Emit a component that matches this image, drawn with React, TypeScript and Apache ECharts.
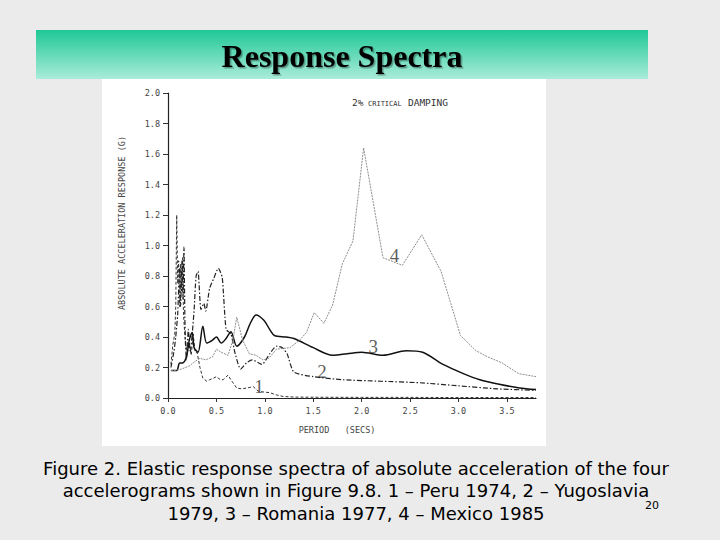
import React, { useEffect, useRef } from "react";
import * as echarts from "echarts";

// Curve 1 – Peru 1974
const period1 = [0.03,0.05,0.07,0.08,0.09,0.10,0.11,0.12,0.13,0.14,0.15,0.16,0.18,0.20,0.22,0.24,0.26,0.28,0.30,0.33,0.36,0.40,0.43,0.47,0.50,0.54,0.57,0.62,0.66,0.71,0.76,0.81,0.85,0.88,0.93,0.98,1.05,1.12,1.19,1.30,1.50,2.00,2.50,3.00,3.50,3.80];
const accel1 = [0.22,0.35,0.42,0.60,1.20,0.75,0.90,0.60,0.88,0.70,0.92,0.55,0.35,0.30,0.35,0.28,0.42,0.30,0.30,0.20,0.13,0.11,0.12,0.13,0.14,0.12,0.12,0.15,0.11,0.065,0.06,0.065,0.07,0.075,0.045,0.04,0.035,0.02,0.01,0.006,0.005,0.004,0.004,0.003,0.003,0.003];

// Curve 2 – Yugoslavia 1979
const period2 = [0.03,0.06,0.08,0.10,0.12,0.13,0.145,0.155,0.165,0.175,0.19,0.21,0.23,0.25,0.27,0.29,0.31,0.34,0.37,0.39,0.43,0.47,0.52,0.56,0.60,0.65,0.69,0.75,0.81,0.87,0.97,1.05,1.12,1.18,1.23,1.30,1.50,1.80,2.20,2.60,3.00,3.40,3.80];
const accel2 = [0.20,0.30,0.40,0.55,0.85,0.60,0.90,0.65,0.99,0.50,0.25,0.45,0.30,0.42,0.58,0.80,0.83,0.58,0.62,0.57,0.72,0.78,0.85,0.79,0.45,0.42,0.30,0.19,0.23,0.25,0.22,0.29,0.34,0.33,0.29,0.17,0.14,0.12,0.11,0.10,0.08,0.06,0.05];

// Curve 3 – Romania 1977
const period3 = [0.03,0.09,0.12,0.15,0.19,0.22,0.25,0.27,0.31,0.36,0.40,0.46,0.50,0.55,0.60,0.65,0.71,0.79,0.85,0.91,0.99,1.05,1.10,1.22,1.30,1.50,1.70,1.85,2.00,2.22,2.46,2.63,2.84,3.05,3.22,3.42,3.63,3.80];
const accel3 = [0.18,0.18,0.23,0.23,0.27,0.38,0.43,0.33,0.30,0.47,0.36,0.38,0.40,0.36,0.39,0.435,0.34,0.40,0.49,0.545,0.51,0.45,0.41,0.40,0.39,0.33,0.28,0.29,0.30,0.28,0.31,0.30,0.22,0.16,0.12,0.09,0.066,0.055];

// Curve 4 – Mexico 1985
const period4 = [0.03,0.08,0.14,0.22,0.28,0.33,0.39,0.46,0.50,0.55,0.62,0.67,0.71,0.77,0.84,0.91,0.98,1.04,1.12,1.26,1.36,1.43,1.51,1.61,1.70,1.80,1.91,2.02,2.12,2.22,2.42,2.62,2.82,3.02,3.18,3.30,3.45,3.62,3.80];
const accel4 = [0.18,0.18,0.19,0.21,0.24,0.26,0.25,0.27,0.32,0.30,0.28,0.38,0.53,0.38,0.29,0.28,0.25,0.26,0.32,0.33,0.38,0.43,0.56,0.49,0.61,0.88,1.03,1.64,1.28,0.92,0.87,1.07,0.83,0.41,0.31,0.27,0.23,0.16,0.14];

// Curve number labels
const curveNames = ["1", "2", "3", "4"];
const curveLabelX = [0.94, 1.59, 2.12, 2.34];
const curveLabelY = [0.077, 0.175, 0.34, 0.934];

const xTicks = [0, 0.5, 1.0, 1.5, 2.0, 2.5, 3.0, 3.5];

const titleText = "Response Spectra";
const captionLines = [
  "Figure 2. Elastic response spectra of absolute acceleration of the four",
  "accelerograms shown in Figure 9.8. 1 – Peru 1974, 2 – Yugoslavia",
  "1979, 3 – Romania 1977, 4 – Mexico 1985",
];
const slideNumber = "20";

const zip = (xs: number[], ys: number[]) => xs.map((x, i) => [x, ys[i]]);

const MONO = "'DejaVu Sans Mono', monospace";

export default function App() {
  const ref = useRef<HTMLDivElement>(null);
  useEffect(() => {
    if (!ref.current) return;
    const chart = echarts.init(ref.current, null, { renderer: "svg" });
    const axisLabelStyle = { fontFamily: MONO, fontSize: 8.5, color: "#444" };
    const monoText = (text: string, x: number, size: number, align: string) => ({
      type: "text",
      x,
      y: 107.5,
      style: {
        text,
        fontFamily: MONO,
        fontSize: size,
        fill: "#333",
        align,
        verticalAlign: "bottom",
      },
    });
    chart.setOption({
      animation: false,
      backgroundColor: "#ebebeb",
      grid: { left: 168, top: 93, width: 368, height: 305, containLabel: false },
      xAxis: {
        type: "value",
        min: 0,
        max: 3.8,
        axisLine: { show: true, onZero: false, lineStyle: { color: "#222", width: 1.2 } },
        axisTick: { show: true, length: 4, customValues: xTicks, lineStyle: { color: "#333" } },
        axisLabel: {
          ...axisLabelStyle,
          margin: 8,
          customValues: xTicks,
          formatter: (v: number) => v.toFixed(1),
        },
        splitLine: { show: false },
      },
      yAxis: {
        type: "value",
        min: 0,
        max: 2.0,
        interval: 0.2,
        axisLine: { show: true, lineStyle: { color: "#222", width: 1.2 } },
        axisTick: { show: true, length: 5, lineStyle: { color: "#333" } },
        axisLabel: { ...axisLabelStyle, margin: 8, formatter: (v: number) => v.toFixed(1) },
        splitLine: { show: false },
      },
      graphic: [
        {
          type: "rect",
          z: -10,
          shape: { x: 36, y: 30, width: 612, height: 49 },
          style: {
            fill: new echarts.graphic.LinearGradient(0, 0, 0, 1, [
              { offset: 0, color: "#1fc896" },
              { offset: 1, color: "#aaecd9" },
            ]),
          },
        },
        {
          type: "rect",
          z: -10,
          shape: { x: 102, y: 79, width: 444, height: 367 },
          style: { fill: "#ffffff" },
        },
        {
          type: "text",
          x: 342,
          y: 56,
          style: {
            text: titleText,
            fontFamily: "'Liberation Serif', serif",
            fontWeight: "bold",
            fontSize: 32,
            fill: "#000",
            align: "center",
            verticalAlign: "middle",
            textShadowColor: "rgba(0,0,0,0.35)",
            textShadowOffsetX: 1.5,
            textShadowOffsetY: 1.5,
            textShadowBlur: 1,
          },
        },
        ...captionLines.map((t, i) => ({
          type: "text",
          x: 356,
          y: 468 + i * 22.5,
          style: {
            text: t,
            fontFamily: "'DejaVu Sans', sans-serif",
            fontSize: 18,
            fill: "#000",
            align: "center",
            verticalAlign: "middle",
          },
        })),
        {
          type: "text",
          x: 652,
          y: 505,
          style: {
            text: slideNumber,
            fontFamily: "'DejaVu Sans', sans-serif",
            fontSize: 11,
            fill: "#000",
            align: "center",
            verticalAlign: "middle",
          },
        },
        {
          type: "text",
          x: 122,
          y: 223,
          rotation: Math.PI / 2,
          style: {
            text: "ABSOLUTE ACCELERATION RESPONSE (G)",
            fontFamily: MONO,
            fontSize: 8.5,
            fill: "#444",
            align: "center",
            verticalAlign: "middle",
          },
        },
        {
          type: "text",
          x: 337,
          y: 430,
          style: {
            text: "PERIOD   (SECS)",
            fontFamily: MONO,
            fontSize: 8.5,
            fill: "#444",
            align: "center",
            verticalAlign: "middle",
          },
        },
        monoText("2%", 352, 9.5, "left"),
        monoText("CRITICAL", 368, 7, "left"),
        monoText("DAMPING", 448, 9.5, "right"),
      ],
      series: [
        {
          type: "line",
          name: "Peru 1974",
          data: zip(period1, accel1),
          showSymbol: false,
          symbol: "none",
          lineStyle: { color: "#333", width: 1, type: [3, 2] },
        },
        {
          type: "line",
          name: "Yugoslavia 1979",
          data: zip(period2, accel2),
          showSymbol: false,
          symbol: "none",
          smooth: 0.2,
          lineStyle: { color: "#222", width: 1.2, type: [5, 2, 1.5, 2] },
        },
        {
          type: "line",
          name: "Romania 1977",
          data: zip(period3, accel3),
          showSymbol: false,
          symbol: "none",
          smooth: 0.3,
          lineStyle: { color: "#111", width: 1.5, type: "solid" },
        },
        {
          type: "line",
          name: "Mexico 1985",
          data: zip(period4, accel4),
          showSymbol: false,
          symbol: "none",
          lineStyle: { color: "#8c8c8c", width: 1, type: [2, 1] },
        },
        {
          type: "scatter",
          data: curveNames.map((n, i) => ({ value: [curveLabelX[i], curveLabelY[i]], name: n })),
          symbolSize: 0,
          silent: true,
          label: {
            show: true,
            position: "inside",
            formatter: (p: any) => p.name,
            fontFamily: "'Liberation Serif', serif",
            fontSize: 19,
            color: "#333",
          },
        },
      ],
    });
    return () => chart.dispose();
  }, []);
  return (
    <div
      ref={ref}
      style={{ position: "absolute", left: 0, top: 0, width: 720, height: 540 }}
    />
  );
}
